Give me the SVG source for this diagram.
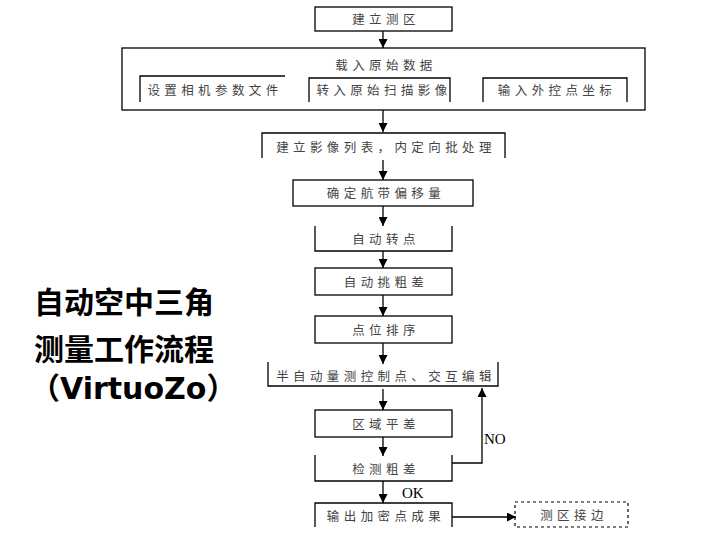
<svg xmlns="http://www.w3.org/2000/svg" width="720" height="540" viewBox="0 0 720 540">
<defs>
<marker id="ah" viewBox="0 0 10 10" refX="10" refY="5" markerWidth="9" markerHeight="9" markerUnits="userSpaceOnUse" orient="auto">
<path d="M0,0 L10,5 L0,10 z" fill="#000"/>
</marker>
</defs>
<style>
.b{fill:none;stroke:#000;stroke-width:1.3}
.d{fill:none;stroke:#000;stroke-width:1.2;stroke-dasharray:3,3}
.t{font-family:"Noto Sans CJK SC","Noto Sans",sans-serif;font-size:12.5px;fill:#444;letter-spacing:4.4px;text-anchor:middle}
.c{stroke:#000;stroke-width:1.3;fill:none}
.big{font-family:"Noto Sans CJK SC","Noto Sans",sans-serif;font-size:30px;font-weight:bold;fill:#000}
.lat{font-family:"DejaVu Sans","Noto Sans CJK SC",sans-serif}
.s{font-family:"Liberation Serif",serif;font-size:15px;fill:#000}
</style>
<rect width="720" height="540" fill="#fff"/>
<g id="n1"><rect class="b" x="315" y="7" width="137" height="24"/><text class="t" x="386" y="24">建立测区</text></g>
<g id="n2"><rect class="b" x="122" y="48" width="523" height="62"/><text class="t" x="386" y="70">载入原始数据</text></g>
<g id="n2a"><path class="b" d="M140,102 V76 H285"/><text class="t" x="215" y="95">设置相机参数文件</text></g>
<g id="n2b"><path class="b" d="M309,102 V78 H450 V102"/><text class="t" x="384" y="95">转入原始扫描影像</text></g>
<g id="n2c"><path class="b" d="M483,102 V78 H627 V102"/><text class="t" x="557" y="95">输入外控点坐标</text></g>
<g id="n3"><path class="b" d="M262,158 V133 H505 V158"/><text class="t" x="386" y="152">建立影像列表，内定向批处理</text></g>
<g id="n4"><rect class="b" x="293" y="180" width="180" height="26"/><text class="t" x="386" y="198">确定航带偏移量</text></g>
<g id="n5"><path class="b" d="M315,226 V251 H452 V226"/><text class="t" x="386" y="244">自动转点</text></g>
<g id="n6"><rect class="b" x="315" y="268" width="137" height="27"/><text class="t" x="386" y="287">自动挑粗差</text></g>
<g id="n7"><rect class="b" x="315" y="316" width="137" height="27"/><text class="t" x="386" y="335">点位排序</text></g>
<g id="n8"><path class="b" d="M268,362 V386 H498 V362"/><text class="t" x="386" y="381">半自动量测控制点、交互编辑</text></g>
<g id="n9"><rect class="b" x="315" y="410" width="137" height="27"/><text class="t" x="386" y="429">区域平差</text></g>
<g id="n10"><path class="b" d="M315,455 V481 H452 V455"/><text class="t" x="386" y="474">检测粗差</text></g>
<g id="n11"><path class="b" d="M315,527 V503 H452 V527"/><text class="t" x="386" y="521">输出加密点成果</text></g>
<g id="n12"><rect class="d" x="515" y="502" width="113" height="25"/><text class="t" x="574" y="520">测区接边</text></g>
<g id="connectors">
<line class="c" x1="383" y1="31" x2="383" y2="48" marker-end="url(#ah)"/>
<line class="c" x1="383" y1="110" x2="383" y2="132" marker-end="url(#ah)"/>
<line class="c" x1="383" y1="160" x2="383" y2="180" marker-end="url(#ah)"/>
<line class="c" x1="383" y1="206" x2="383" y2="226" marker-end="url(#ah)"/>
<line class="c" x1="383" y1="251" x2="383" y2="268" marker-end="url(#ah)"/>
<line class="c" x1="383" y1="295" x2="383" y2="316" marker-end="url(#ah)"/>
<line class="c" x1="383" y1="343" x2="383" y2="364" marker-end="url(#ah)"/>
<line class="c" x1="383" y1="389" x2="383" y2="410" marker-end="url(#ah)"/>
<line class="c" x1="383" y1="437" x2="383" y2="456" marker-end="url(#ah)"/>
<line class="c" x1="383" y1="481" x2="383" y2="503" marker-end="url(#ah)"/>
<path class="c" d="M452,463 H482 V388" marker-end="url(#ah)"/>
<line class="c" x1="452" y1="517" x2="516" y2="517" marker-end="url(#ah)"/>
<text class="s" x="484" y="444">NO</text>
<text class="s" x="402" y="498">OK</text>
</g>
<g id="title">
<text class="big" x="34" y="313">自动空中三角</text>
<text class="big" x="34" y="360">测量工作流程</text>
<text class="big lat" x="30" y="399">（VirtuoZo）</text>
</g>
</svg>
